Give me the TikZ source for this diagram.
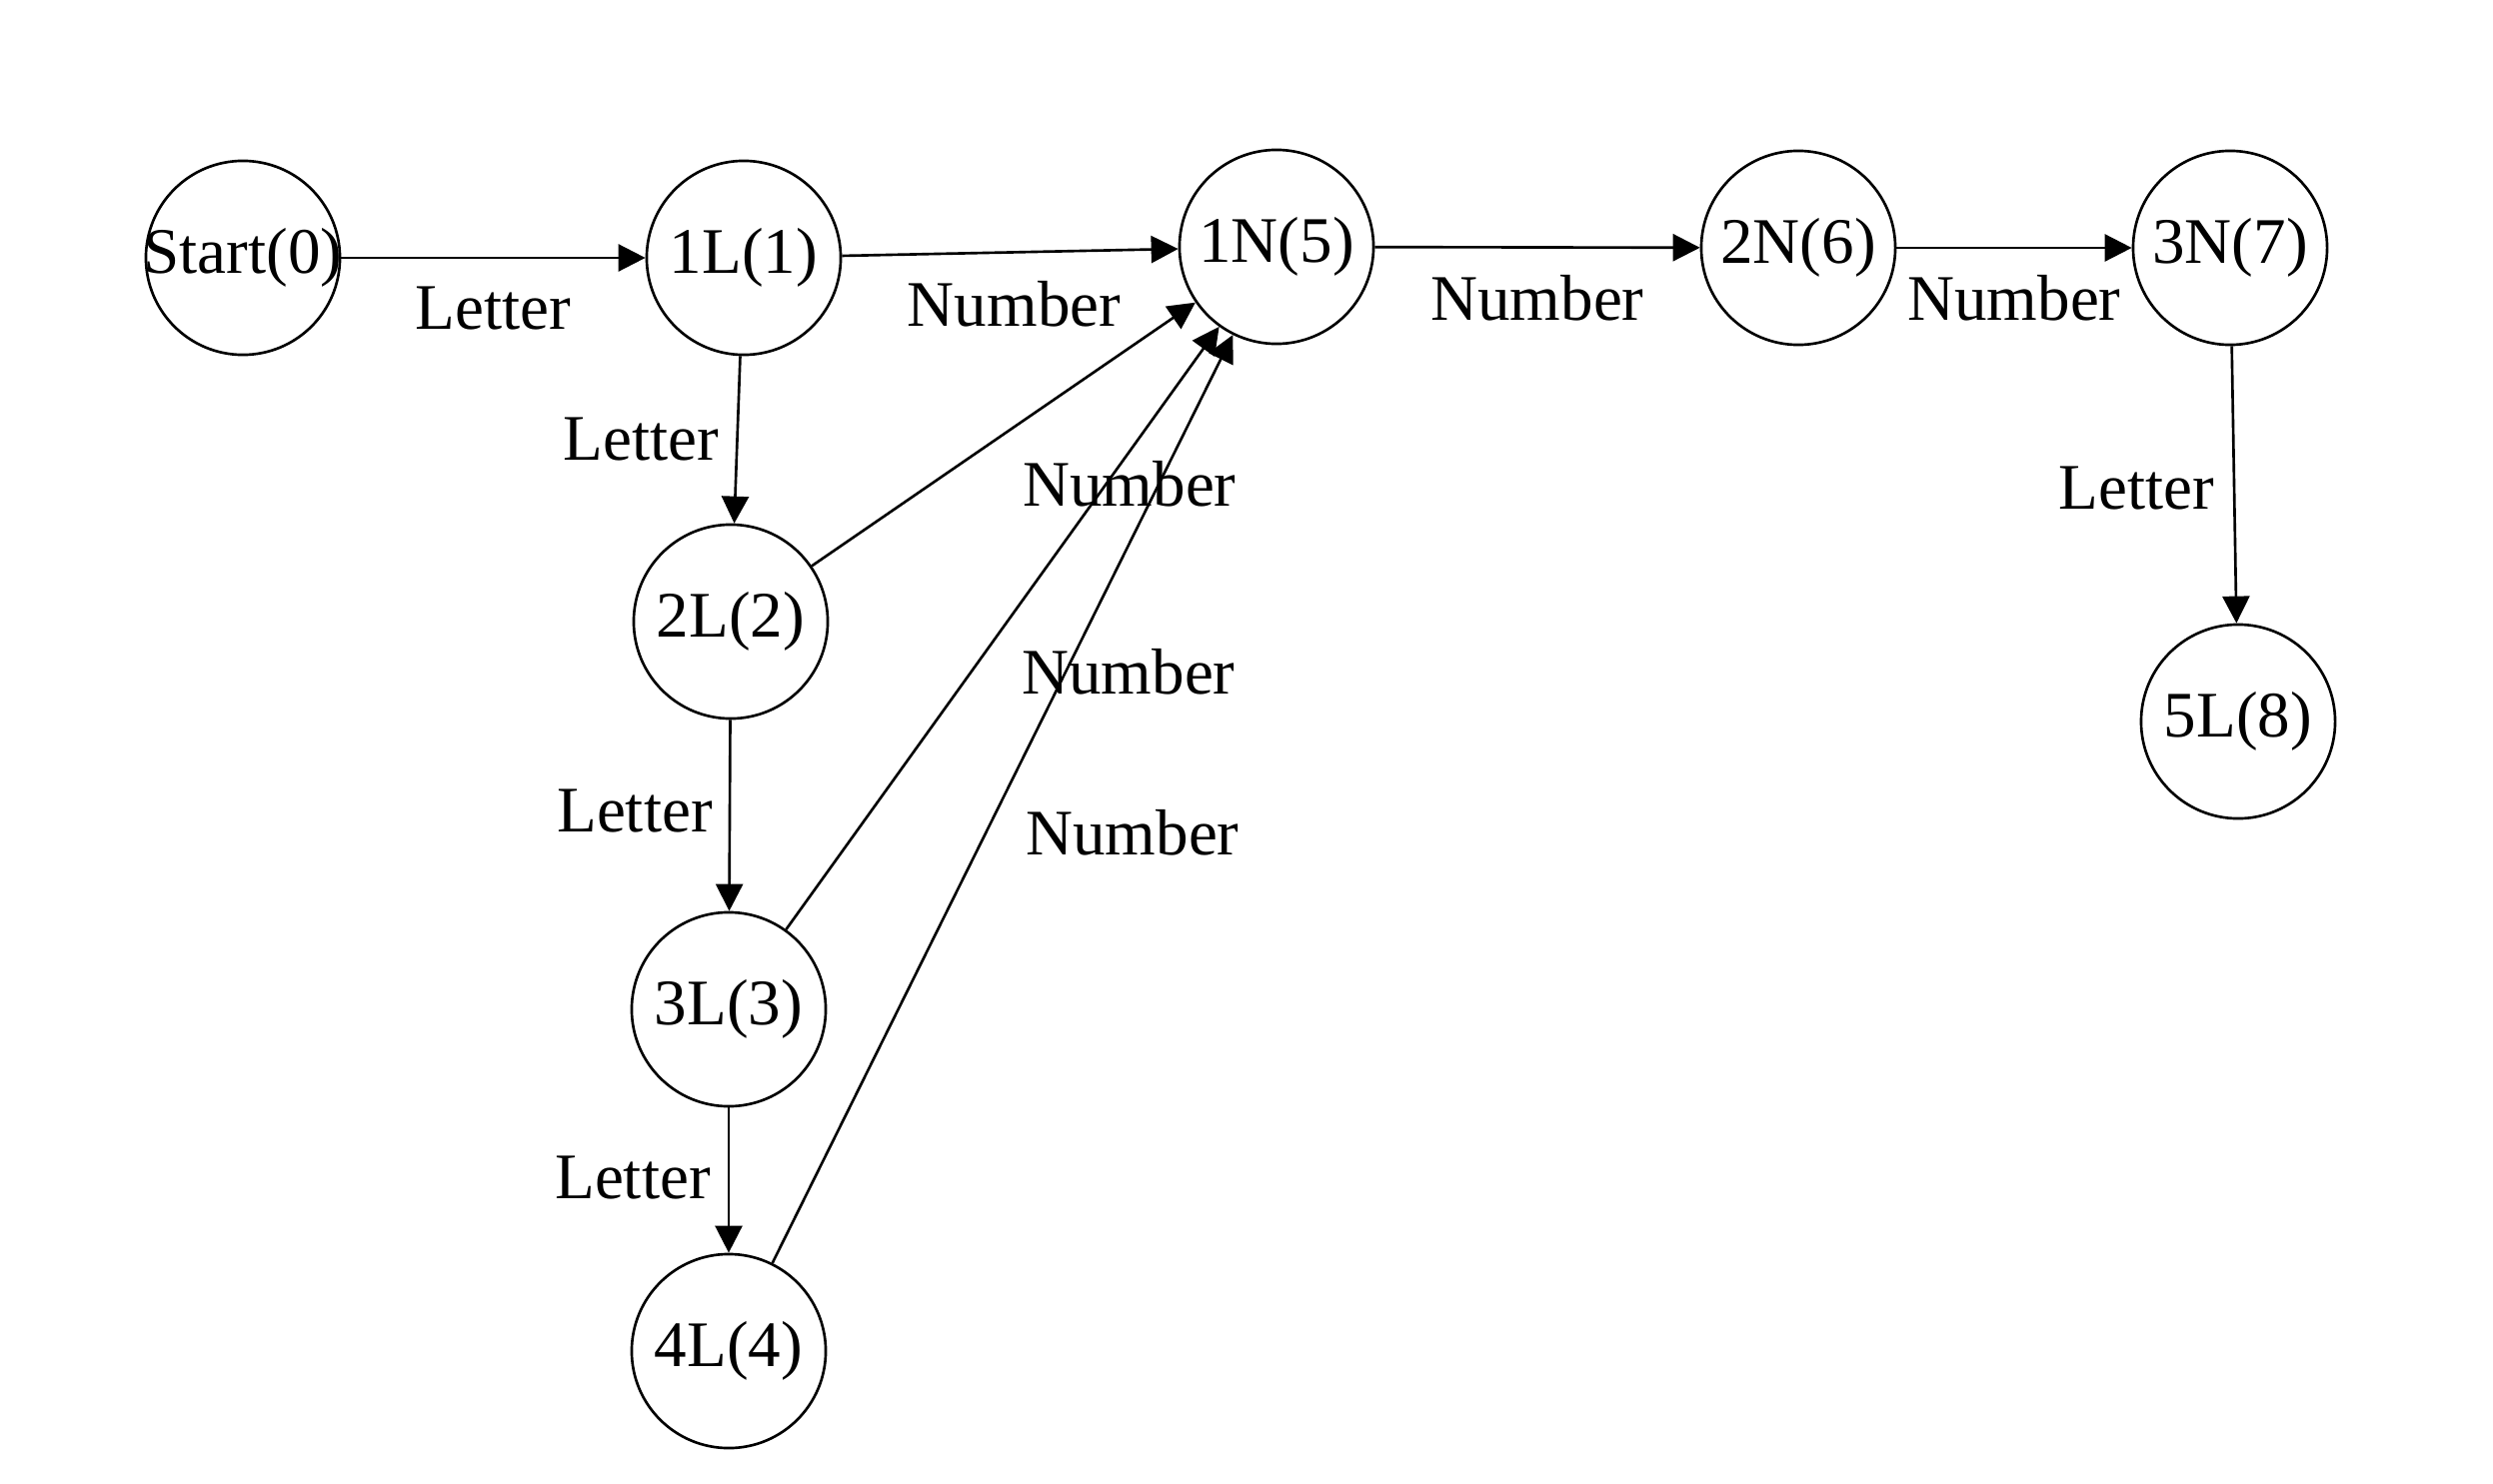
\documentclass[tikz,border=0pt]{standalone}
\usepackage{fontspec}
\setmainfont{Liberation Serif}
\usepackage{tikz}
\usetikzlibrary{arrows.meta}

\begin{document}
\begin{tikzpicture}[x=0.01cm,y=-0.01cm,state/.style={circle,draw,line width=0.75pt,minimum size=1.94cm,inner sep=0pt,font=\fontsize{18.5}{22}\selectfont},lbl/.style={font=\fontsize{18.5}{22}\selectfont,inner sep=0pt},arr/.style={-{Triangle[length=0.27cm,width=0.27cm]},line width=0.75pt}]
    \useasboundingbox (0,0) rectangle (2494,1485);
    \foreach \n/\x/\y/\t in %
    {s0/243/258/Start(0),l1/744/258/1L(1),l2/731/622/2L(2),l3/729/1010/3L(3),l4/729/1352/4L(4),n5/1277/247/1N(5),n6/1799/248/2N(6),n7/2231/248/3N(7),l8/2239/722/5L(8)} {
       \node[state] (\n) at (\x,\y) {\makebox[0pt]{\t}};
    }
    \draw[arr] (s0) -- node[lbl,shift={(0,51)}] {Letter} (l1);
    \draw[arr] (l1) -- node[lbl,shift={(4,52)}] {Number} (n5);
    \draw[arr] (n5) -- node[lbl,shift={(0,51)}] {Number} (n6);
    \draw[arr] (n6) -- node[lbl,shift={(0,50)}] {Number} (n7);
    \draw[arr] (l1) -- node[lbl,shift={(-96,0)}] {Letter} (l2);
    \draw[arr] (l2) -- node[lbl,shift={(-95,-4)}] {Letter} (l3);
    \draw[arr] (l3) -- node[lbl,shift={(-96,-2)}] {Letter} (l4);
    \draw[arr] (n7) -- node[lbl,shift={(-98,4)}] {Letter} (l8);
    \draw[arr] (l2) -- node[lbl,shift={(126,50)}] {Number} (n5);
    \draw[arr] (l3) -- node[lbl,shift={(126,44)}] {Number} (n5);
    \draw[arr] (l4) -- node[lbl,shift={(130,34)}] {Number} (n5);
\end{tikzpicture}
\end{document}
